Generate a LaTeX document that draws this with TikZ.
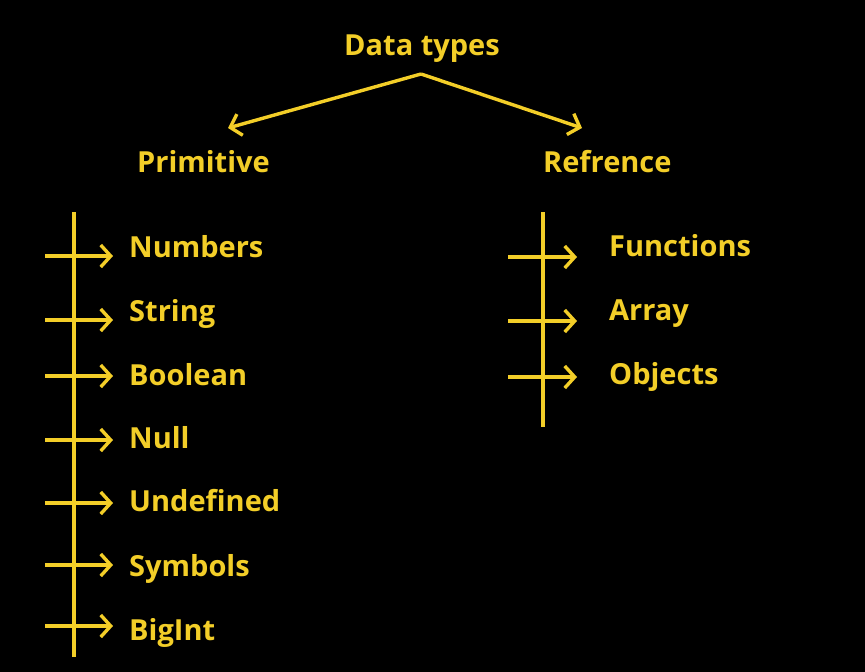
\documentclass[tikz,border=0pt]{standalone}
\usepackage{fontspec}
\setmainfont{Open Sans}
\usetikzlibrary{arrows.meta}
\definecolor{ylw}{RGB}{243,206,40}
\begin{document}
\begin{tikzpicture}[x=1pt,y=-1pt,
  lbl/.style={text=ylw,font=\bfseries\fontsize{29}{31}\selectfont,inner sep=0pt},
  ln/.style={draw=ylw,line width=3.4pt},
  arr/.style={ln,-{Straight Barb[length=10pt,width=22pt,line width=3.4pt]}}]
\fill[black] (0,0) rectangle (865,672);
\useasboundingbox (0,0) rectangle (865,672);
% title
\node[lbl,anchor=base] (dt) at (422,55) {Data types};
\coordinate (apex) at (421,74);
\coordinate (tipL) at (228,128);
\coordinate (tipR) at (582,128);
\draw[arr,line join=round] (apex) -- (tipL);
\draw[arr,line join=round] (apex) -- (tipR);
\node[lbl,anchor=base west] (prim) at (137,172) {Primitive};
\node[lbl,anchor=base west] (ref) at (543,172) {Refrence};
% left column
\coordinate (lt) at (74,212);
\coordinate (lb) at (74,657);
\draw[ln] (lt) -- (lb);
\foreach \t/\ay/\ty [count=\i] in {Numbers/256/257, String/320/321, Boolean/376/385, Null/440/448, Undefined/503/511, Symbols/565/576, BigInt/626/640}{
  \coordinate (ls\i) at (45,\ay);
  \coordinate (le\i) at (113,\ay);
  \draw[arr] (ls\i) -- (le\i);
  \node[lbl,anchor=base west] (li\i) at (129,\ty) {\t};
}
% right column
\coordinate (rt) at (543,212);
\coordinate (rb) at (543,427);
\draw[ln] (rt) -- (rb);
\foreach \t/\ay/\ty [count=\i] in {Functions/257/256, Array/321/320, Objects/377/384}{
  \coordinate (rs\i) at (508,\ay);
  \coordinate (re\i) at (577,\ay);
  \draw[arr] (rs\i) -- (re\i);
  \node[lbl,anchor=base west] (ri\i) at (609,\ty) {\t};
}
\end{tikzpicture}
\end{document}
